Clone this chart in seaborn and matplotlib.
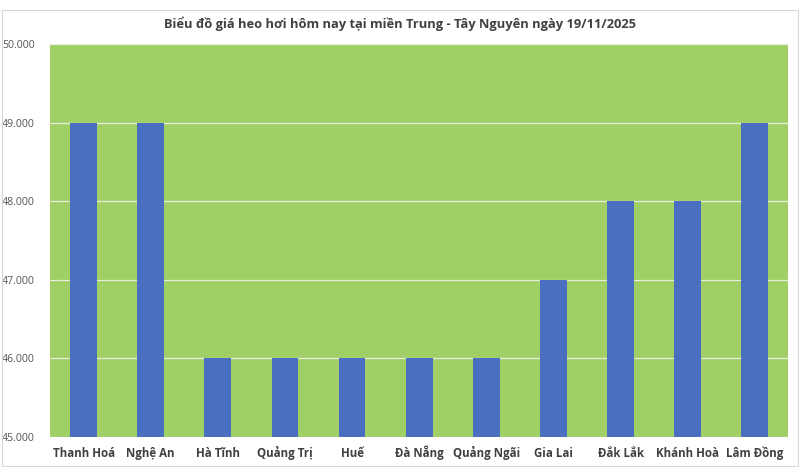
import matplotlib
matplotlib.use("Agg")
import matplotlib.pyplot as plt
import seaborn as sns
import pandas as pd
from matplotlib.ticker import FuncFormatter, MultipleLocator

provinces = ["Thanh Hoá", "Nghệ An", "Hà Tĩnh", "Quảng Trị", "Huế", "Đà Nẵng",
             "Quảng Ngãi", "Gia Lai", "Đắk Lắk", "Khánh Hoà", "Lâm Đồng"]
prices = [49000, 49000, 46000, 46000, 46000, 46000, 46000, 47000, 48000, 48000, 49000]

df = pd.DataFrame({"province": provinces, "price": prices})

sns.set_style("white")
plt.rcParams["font.family"] = ["Open Sans", "DejaVu Sans"]

fig = plt.figure(figsize=(8, 4.67), dpi=100)
ax = fig.add_axes([0.0625, 0.064, 0.923, 0.842])
ax.set_facecolor("#A0CF65")

sns.barplot(data=df, x="province", y="price", color="#4A6FC0", width=0.4,
            saturation=1, edgecolor="none", linewidth=0, ax=ax, zorder=3)

ax.set_ylim(45000, 50000)
ax.yaxis.set_major_locator(MultipleLocator(1000))
ax.yaxis.set_major_formatter(FuncFormatter(lambda v, p: f"{v:,.0f}".replace(",", ".")))
ax.grid(axis="y", color="#E6EEDD", linewidth=0.9, zorder=1)
ax.set_axisbelow(True)

for s in ax.spines.values():
    s.set_visible(False)

ax.set_xlabel("")
ax.set_ylabel("")
ax.tick_params(axis="y", length=0, labelsize=7.6, labelcolor="#555555", pad=11)
ax.tick_params(axis="x", length=0, labelsize=8.3, labelcolor="#404040", pad=14)
for lbl in ax.get_xticklabels():
    lbl.set_fontweight("bold")
    lbl.set_va("baseline")

fig.suptitle("Biểu đồ giá heo hơi hôm nay tại miền Trung - Tây Nguyên ngày 19/11/2025",
             y=0.965, fontsize=9.3, fontweight="bold", color="#404040")

fig.patches.append(plt.Rectangle((0.003, 0.003), 0.994, 0.975, transform=fig.transFigure,
                                 fill=False, edgecolor="#D9D9D9", linewidth=0.8))

fig.savefig("out.png", dpi=100)
